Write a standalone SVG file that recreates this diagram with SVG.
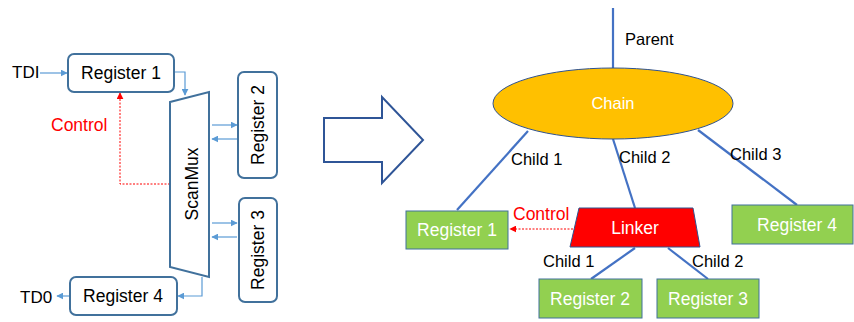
<svg xmlns="http://www.w3.org/2000/svg" width="854" height="322" viewBox="0 0 854 322">
<defs>
<style>
text{font-family:"Liberation Sans",Arial,sans-serif;}
.t{font-size:17.5px;fill:#000;text-anchor:middle;}
.s{font-size:16.5px;fill:#000;}
.w{font-size:17.5px;fill:#fff;text-anchor:middle;}
.r{font-size:17.5px;fill:#f00;}
.box{fill:#fff;stroke:#41719C;stroke-width:2;}
.g{fill:#92D050;stroke:#41719C;stroke-width:1;}
.ln{fill:none;stroke:#5B9BD5;stroke-width:1.2;}
.tl{fill:none;stroke:#4472C4;stroke-width:2.2;}
.dash{fill:none;stroke:#f00;stroke-width:1;stroke-dasharray:2,1.5;}
</style>
<marker id="a" viewBox="0 0 10 10" refX="9" refY="5" markerWidth="7" markerHeight="7" orient="auto" markerUnits="userSpaceOnUse"><path d="M0,0L10,5L0,10z" fill="#5B9BD5"/></marker>
<marker id="ar" viewBox="0 0 10 10" refX="9" refY="5" markerWidth="7" markerHeight="7" orient="auto" markerUnits="userSpaceOnUse"><path d="M0,0L10,5L0,10z" fill="#f00"/></marker>
</defs>

<g id="connectors">
<path class="ln" d="M40,73H67" marker-end="url(#a)"/>
<path class="ln" d="M174,72H185V95" marker-end="url(#a)"/>
<path class="ln" d="M212,125H237" marker-end="url(#a)"/>
<path class="ln" d="M237,139H212" marker-end="url(#a)"/>
<path class="ln" d="M212,223H237" marker-end="url(#a)"/>
<path class="ln" d="M237,237H212" marker-end="url(#a)"/>
<path class="ln" d="M202,277V296H178" marker-end="url(#a)"/>
<path class="ln" d="M70,296H57" marker-end="url(#a)"/>
<path class="dash" d="M170,184H120V93" marker-end="url(#ar)"/>
<path class="tl" d="M613,8V68"/>
<path class="tl" d="M528,131L457,210"/>
<path class="tl" d="M613,139L635,208"/>
<path class="tl" d="M698,130L797,205"/>
<path class="tl" d="M635,248L591,279"/>
<path class="tl" d="M668,248L708,279"/>
<path class="dash" d="M573,229H510" marker-end="url(#ar)"/>
</g>

<g id="tdi"><text class="s" x="12" y="78" style="font-size:17px">TDI</text></g>
<g id="td0"><text class="s" x="20" y="303" style="font-size:17px">TD0</text></g>
<g id="control-left"><text class="r" x="51" y="131">Control</text></g>

<g id="reg1-left"><rect class="box" x="68" y="54" width="106" height="38" rx="6"/><text class="t" x="121" y="79">Register 1</text></g>
<g id="scanmux"><path d="M170,102L209,92V277L170,267Z" fill="#fff" stroke="#41719C" stroke-width="2"/><text class="t" transform="translate(198,184) rotate(-90)">ScanMux</text></g>
<g id="reg2-left"><rect class="box" x="238" y="72" width="39" height="106" rx="6"/><text class="t" transform="translate(264,125) rotate(-90)">Register 2</text></g>
<g id="reg3-left"><rect class="box" x="239" y="198" width="38" height="104" rx="6"/><text class="t" transform="translate(264,250) rotate(-90)">Register 3</text></g>
<g id="reg4-left"><rect class="box" x="70" y="277" width="107" height="38" rx="6"/><text class="t" x="123" y="302">Register 4</text></g>

<g id="big-arrow"><path d="M324,118H382V97L423,140L382,183V162H324Z" fill="#fff" stroke="#2F5597" stroke-width="2"/></g>

<g id="chain"><ellipse cx="613" cy="103.5" rx="120" ry="35.5" fill="#FFC000" stroke="#2F528F" stroke-width="1"/><text class="w" x="613" y="109" style="font-size:16.5px">Chain</text></g>
<g id="parent-label"><text class="s" x="625" y="45">Parent</text></g>
<g id="child-labels">
<text class="s" x="511" y="165">Child 1</text>
<text class="s" x="619" y="163">Child 2</text>
<text class="s" x="730" y="160">Child 3</text>
<text class="s" x="543" y="267">Child 1</text>
<text class="s" x="692" y="267">Child 2</text>
</g>
<g id="reg1-right"><rect class="g" x="406" y="211" width="102" height="38"/><text class="w" x="457" y="236">Register 1</text></g>
<g id="linker"><path d="M579,208H693L700,247H570Z" fill="#f00" stroke="#2F528F" stroke-width="1"/><text class="w" x="635" y="234">Linker</text></g>
<g id="control-right"><text class="r" x="513" y="220">Control</text></g>
<g id="reg4-right"><rect class="g" x="732" y="205" width="121" height="39"/><text class="w" x="797" y="231">Register 4</text></g>
<g id="reg2-right"><rect class="g" x="539" y="279" width="103" height="39"/><text class="w" x="590" y="305">Register 2</text></g>
<g id="reg3-right"><rect class="g" x="657" y="279" width="102" height="39"/><text class="w" x="708" y="305">Register 3</text></g>
</svg>
